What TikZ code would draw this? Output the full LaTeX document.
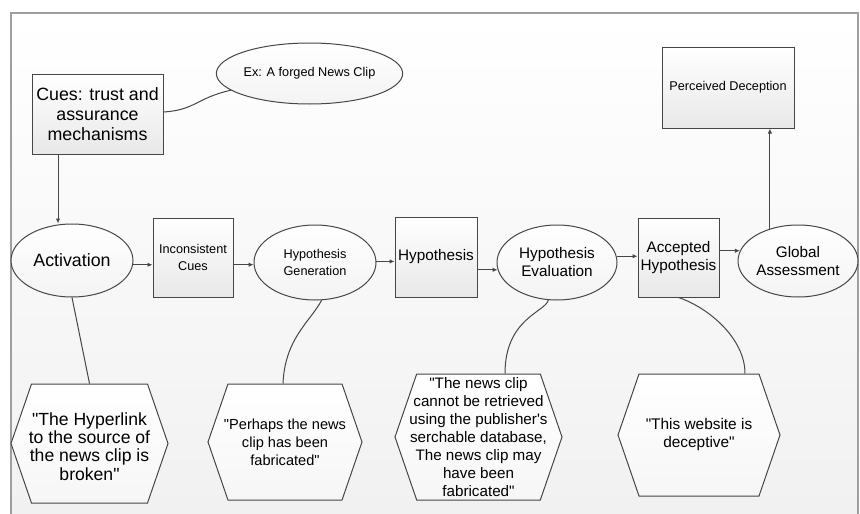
\documentclass[tikz,border=0pt]{standalone}
\usepackage{fontspec}
\setmainfont{Liberation Sans}[Ligatures=TeXOff]
\usetikzlibrary{arrows.meta,shapes.geometric,shapes.symbols}
\tikzset{
  bigtxt/.style={font=\fontsize{17.8}{20}\selectfont},
  midtxt/.style={font=\fontsize{15.3}{18}\selectfont},
  smalltxt/.style={font=\fontsize{12.7}{17.5}\selectfont},
  block/.style={draw=gray!55!black,line width=1pt,top color=white,bottom color=gray!18,
                align=center,inner sep=1pt},
  oval/.style={ellipse,draw=gray!55!black,line width=1pt,top color=white,bottom color=gray!9,
               align=center,inner sep=0pt},
  remark/.style={signal,signal to=west and east,signal pointer angle=142,draw=gray!55!black,
                 line width=1pt,top color=white,bottom color=gray!7,inner sep=0pt},
  saying/.style={align=center},
  link/.style={draw=gray!55!black,line width=1pt},
  arrow/.style={link,-{Latex[length=5pt,width=4.5pt]}},
  frame/.style={draw=gray!75,line width=1.4pt}
}
\begin{document}
\begin{tikzpicture}[x=1pt,y=-1pt]
  \useasboundingbox (0,0) rectangle (860,514);
  \shade[top color=white,bottom color=gray!11] (11,13) rectangle (858,514);
  \draw[frame] (11,514) -- (11,13) -- (858,13) -- (858,514);

  % upper row
  \node[block,bigtxt,minimum width=131pt,minimum height=80pt] (cues) at (97.5,114)
    {Cues: trust and\\assurance\\mechanisms};
  \node[oval,smalltxt,minimum width=153pt,minimum height=61pt] (ex) at (309.5,73.5)
    {Ex: A forged News Clip};
  \node[block,smalltxt,minimum width=132pt,minimum height=81pt] (perc) at (728,87.5)
    {Perceived Deception};

  % main chain
  \node[oval,bigtxt,minimum width=122pt,minimum height=73pt] (act) at (72,260.5) {Activation};
  \node[block,smalltxt,minimum width=80pt,minimum height=79pt] (incon) at (193,257.5)
    {Inconsistent\\Cues};
  \node[oval,smalltxt,minimum width=122pt,minimum height=75pt] (hg) at (315,262.5)
    {Hypothesis\\Generation};
  \node[block,midtxt,minimum width=82pt,minimum height=80pt] (hyp) at (436,257) {Hypothesis};
  \node[oval,midtxt,minimum width=120pt,minimum height=75pt] (he) at (557,262.5)
    {Hypothesis\\Evaluation};
  \node[block,midtxt,minimum width=81pt,minimum height=79pt] (acc) at (678.5,257.5)
    {Accepted\\Hypothesis};
  \node[oval,midtxt,minimum width=120pt,minimum height=72pt] (glob) at (798,261)
    {Global\\Assessment};

  % quotes
  \node[remark,minimum width=157pt,minimum height=119pt,
        label={[saying,font=\fontsize{17.6}{18.3}\selectfont,yshift=-3pt]center:
        "The Hyperlink\\to the source of\\the news clip is\\broken"}] (h1) at (89.5,443.5) {};
  \node[remark,minimum width=154pt,minimum height=116pt,
        label={[saying,font=\fontsize{14.6}{18}\selectfont]center:
        "Perhaps the news\\clip has been\\fabricated"}] (h2) at (285,442) {};
  \node[remark,minimum width=167pt,minimum height=126pt,
        label={[saying,font=\fontsize{15.2}{18}\selectfont]center:
        "The news clip\\cannot be retrieved\\using the publisher's\\serchable database,\\%
        The news clip may\\have been\\fabricated"}] (h3) at (478.5,437) {};
  \node[remark,minimum width=162pt,minimum height=122pt,
        label={[saying,font=\fontsize{15.4}{18}\selectfont]center:
        "This website is\\deceptive"}] (h4) at (699,435) {};

  % arrows
  \draw[arrow] ([xshift=-39.5pt]cues.south) -- ([xshift=-39.5pt]cues.south |- act.north);
  \draw[arrow] (act.-4) -- (act.-4 -| incon.west);
  \draw[arrow] (incon.east |- hg.182) -- (hg.182);
  \draw[arrow] (hg.1) -- (hg.1 -| hyp.west);
  \draw[arrow] (hyp.east |- he.187) -- (he.187);
  \draw[arrow] (he.6) -- (he.6 -| acc.west);
  \draw[arrow] (acc.east |- glob.170) -- (glob.170);
  \draw[arrow] (glob.131) -- (glob.131 |- perc.south);

  % links
  \draw[link] ([yshift=2pt]cues.east) .. controls +(32,-2) and +(-35,8) .. (ex.192);
  \draw[link] (act.south) -- (h1.north);
  \draw[link] (hg.280) .. controls +(-12,22) and +(2,-45) .. ([xshift=-2pt]h2.north);
  \draw[link] (he.257) .. controls +(-3,12) and +(0,-55) .. ([xshift=26.5pt]h3.north);
  \draw[link] (acc.south) .. controls +(30,10) and +(0,-35) .. ([xshift=46pt]h4.north);
\end{tikzpicture}
\end{document}
